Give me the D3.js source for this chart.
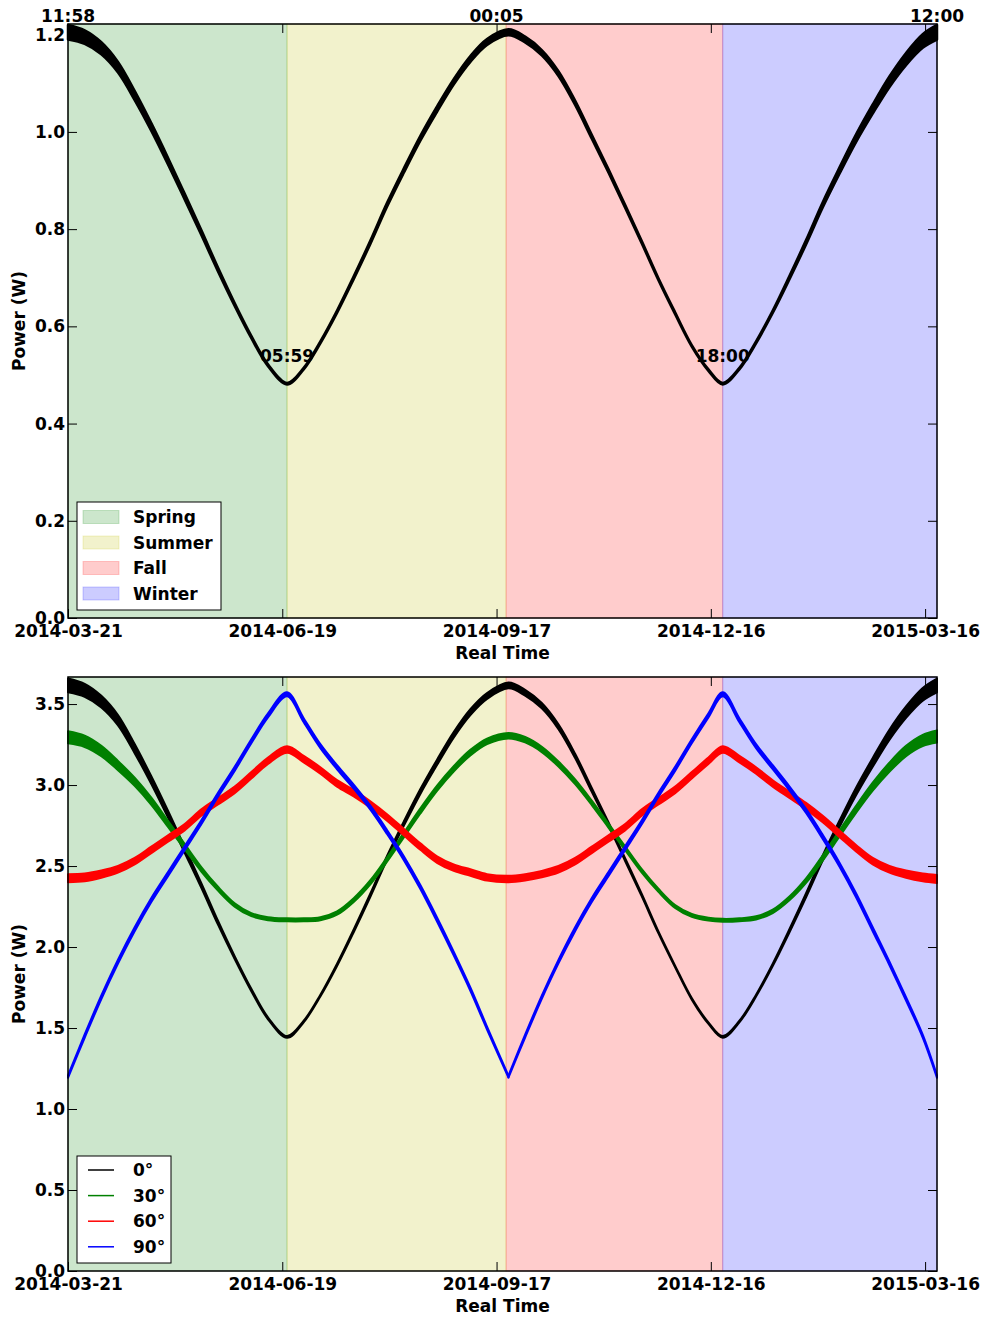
<!DOCTYPE html>
<html>
<head>
<meta charset="utf-8">
<script src="https://cdn.jsdelivr.net/npm/d3@7"></script>
<style>
  body { margin: 0; background: #fff; }
  text { font-family: "DejaVu Sans", sans-serif; font-weight: bold; }
</style>
</head>
<body>
<div id="chart"></div>
<script>
// ---- data ----
const START_DATE = "2014-03-21";
const END_DATE = "2015-03-21";

const tickDates = ["2014-03-21", "2014-06-19", "2014-09-17", "2014-12-16", "2015-03-16"];

const seasons = ["Spring", "Summer", "Fall", "Winter"];
const seasonStarts = ["2014-03-21", "2014-06-21", "2014-09-21", "2014-12-21"];
const seasonEnds = ["2014-06-21", "2014-09-21", "2014-12-21", "2015-03-21"];
const seasonColors = ["green", "#bfbf00", "red", "blue"];

// day offsets from START_DATE of the samples below
const dayOffsets = [0, 7, 14, 21, 28, 35, 42, 49, 56, 63, 70, 77, 84, 92, 99, 106, 113, 120, 127, 134, 141, 148, 155, 162, 169, 176, 185,
    192, 199, 206, 213, 220, 227, 234, 241, 248, 255, 262, 269, 275, 282, 289, 296, 303, 310, 317, 324, 331, 338, 345, 352, 359, 365];
const SPLIT_INDEX = 26; // sample at the equinox (day 185)

// top panel: power of the flat panel (centre of the daily band, and band height)
const topPower = [1.205, 1.195, 1.172, 1.133, 1.075, 1.01, 0.94, 0.867, 0.793, 0.717, 0.645, 0.578, 0.52, 0.482, 0.513, 0.567, 0.63, 0.70, 0.773, 0.85, 0.92, 0.987, 1.047, 1.103, 1.15, 1.185, 1.205,
    1.19, 1.163, 1.12, 1.06, 0.99, 0.92, 0.847, 0.773, 0.697, 0.627, 0.56, 0.51, 0.482, 0.513, 0.567, 0.63, 0.70, 0.773, 0.85, 0.92, 0.987, 1.047, 1.103, 1.15, 1.187, 1.205];
const topSpread = [0.030, 0.028, 0.025, 0.022, 0.019, 0.016, 0.014, 0.012, 0.010, 0.008, 0.006, 0.005, 0.004, 0.003, 0.003, 0.004, 0.005, 0.006, 0.007, 0.008, 0.009, 0.010, 0.011, 0.011, 0.012, 0.012, 0.012,
    0.012, 0.011, 0.010, 0.009, 0.008, 0.007, 0.006, 0.005, 0.004, 0.004, 0.003, 0.003, 0.003, 0.003, 0.004, 0.005, 0.007, 0.009, 0.011, 0.013, 0.016, 0.019, 0.022, 0.025, 0.028, 0.030];

// bottom panel: tilt angles
const angleNames = ["0°", "30°", "60°", "90°"];
const angleColors = ["black", "green", "red", "blue"];

const power0 = [3.615, 3.585, 3.515, 3.40, 3.225, 3.03, 2.82, 2.60, 2.38, 2.15, 1.935, 1.735, 1.56, 1.445, 1.54, 1.70, 1.89, 2.10, 2.32, 2.55, 2.76, 2.96, 3.14, 3.31, 3.45, 3.55, 3.615,
    3.57, 3.49, 3.36, 3.18, 2.97, 2.76, 2.54, 2.32, 2.09, 1.88, 1.68, 1.53, 1.445, 1.54, 1.70, 1.89, 2.10, 2.32, 2.55, 2.76, 2.96, 3.14, 3.31, 3.45, 3.56, 3.615];
const spread0 = [0.085, 0.08, 0.072, 0.064, 0.056, 0.048, 0.042, 0.036, 0.03, 0.024, 0.018, 0.015, 0.012, 0.01, 0.01, 0.012, 0.015, 0.018, 0.021, 0.024, 0.027, 0.03, 0.033, 0.034, 0.036, 0.036, 0.036,
    0.036, 0.033, 0.030, 0.027, 0.024, 0.021, 0.018, 0.015, 0.012, 0.011, 0.01, 0.01, 0.01, 0.01, 0.012, 0.015, 0.02, 0.026, 0.032, 0.039, 0.047, 0.055, 0.063, 0.071, 0.079, 0.085];

const power30 = [3.295, 3.27, 3.21, 3.12, 3.02, 2.90, 2.76, 2.62, 2.48, 2.36, 2.26, 2.20, 2.175, 2.168, 2.168, 2.175, 2.21, 2.29, 2.40, 2.54, 2.69, 2.84, 2.98, 3.10, 3.20, 3.27, 3.305,
    3.28, 3.22, 3.13, 3.02, 2.89, 2.75, 2.61, 2.47, 2.35, 2.25, 2.195, 2.172, 2.165, 2.168, 2.18, 2.22, 2.30, 2.41, 2.55, 2.70, 2.85, 2.99, 3.11, 3.21, 3.275, 3.30];
const spread30 = [0.075, 0.07, 0.064, 0.057, 0.05, 0.044, 0.038, 0.033, 0.028, 0.024, 0.021, 0.019, 0.018, 0.018, 0.018, 0.019, 0.021, 0.023, 0.025, 0.027, 0.029, 0.031, 0.032, 0.033, 0.034, 0.034, 0.034,
    0.034, 0.033, 0.031, 0.029, 0.027, 0.025, 0.023, 0.021, 0.019, 0.018, 0.018, 0.018, 0.018, 0.018, 0.019, 0.021, 0.024, 0.028, 0.033, 0.038, 0.044, 0.05, 0.057, 0.064, 0.07, 0.075];

const power60 = [2.425, 2.43, 2.45, 2.48, 2.53, 2.60, 2.67, 2.74, 2.83, 2.90, 2.97, 3.06, 3.15, 3.22, 3.16, 3.09, 3.01, 2.95, 2.88, 2.80, 2.71, 2.62, 2.54, 2.49, 2.46, 2.43, 2.42,
    2.43, 2.45, 2.48, 2.53, 2.60, 2.67, 2.74, 2.83, 2.90, 2.97, 3.06, 3.15, 3.22, 3.16, 3.09, 3.01, 2.94, 2.87, 2.79, 2.70, 2.61, 2.53, 2.48, 2.45, 2.43, 2.42];
const spread60 = [0.05, 0.048, 0.045, 0.042, 0.04, 0.04, 0.04, 0.04, 0.04, 0.04, 0.04, 0.04, 0.04, 0.04, 0.04, 0.04, 0.04, 0.04, 0.04, 0.04, 0.04, 0.04, 0.04, 0.04, 0.04, 0.04, 0.04,
    0.04, 0.04, 0.04, 0.04, 0.04, 0.04, 0.04, 0.04, 0.04, 0.04, 0.04, 0.04, 0.04, 0.04, 0.04, 0.04, 0.04, 0.04, 0.04, 0.04, 0.04, 0.04, 0.042, 0.045, 0.048, 0.05];

const power90 = [1.20, 1.45, 1.69, 1.91, 2.11, 2.29, 2.45, 2.61, 2.77, 2.94, 3.10, 3.27, 3.43, 3.56, 3.40, 3.24, 3.11, 2.99, 2.86, 2.71, 2.55, 2.37, 2.17, 1.96, 1.74, 1.50, 1.20,
    1.45, 1.69, 1.91, 2.11, 2.29, 2.45, 2.61, 2.77, 2.94, 3.10, 3.27, 3.43, 3.56, 3.40, 3.24, 3.11, 2.98, 2.84, 2.68, 2.51, 2.32, 2.11, 1.90, 1.68, 1.45, 1.20];
const spread90 = [0.015, 0.02, 0.022, 0.025, 0.025, 0.025, 0.025, 0.025, 0.025, 0.025, 0.025, 0.025, 0.025, 0.025, 0.025, 0.025, 0.025, 0.025, 0.025, 0.025, 0.025, 0.025, 0.025, 0.022, 0.02, 0.018, 0.012,
    0.018, 0.02, 0.022, 0.025, 0.025, 0.025, 0.025, 0.025, 0.025, 0.025, 0.025, 0.025, 0.025, 0.025, 0.025, 0.025, 0.025, 0.025, 0.025, 0.025, 0.025, 0.025, 0.022, 0.02, 0.018, 0.015];

// clock time labels at the extremes of the top curve
const extremeLabels = ["11:58", "05:59", "00:05", "18:00", "12:00"];
const extremeDays = [0, 92, 180, 275, 365];
const extremeValues = [1.222, 0.481, 1.222, 0.481, 1.222];
const extremeIsMax = [true, false, true, false, true];

// ---- layout ----
const WIDTH = 986, HEIGHT = 1317;
const PLOT_LEFT = 68, PLOT_RIGHT = 937;
const TICK_LEN = 9;
const FONT_SIZE = 17;

const parseDate = d3.utcParse("%Y-%m-%d");
const startDate = parseDate(START_DATE);
const smooth = d3.curveCatmullRom.alpha(0.5);

let svg = d3.select("#chart").append("svg")
    .attr("width", WIDTH)
    .attr("height", HEIGHT)
    .style("display", "block");

let x = d3.scaleUtc()
    .domain([startDate, parseDate(END_DATE)])
    .range([PLOT_LEFT, PLOT_RIGHT]);

function rowsFor(values, spreads) {
    return dayOffsets.map((d, i) => ({
        date: d3.utcDay.offset(startDate, d),
        v: values[i],
        lo: values[i] - spreads[i] / 2,
        hi: values[i] + spreads[i] / 2
    }));
}

function drawPanel(top, bottom, yMax) {
    let g = svg.append("g");

    let y = d3.scaleLinear()
        .domain([0, yMax])
        .range([bottom, top]);

    // season shading
    seasons.forEach((s, i) => {
        let x0 = x(parseDate(seasonStarts[i])), x1 = x(parseDate(seasonEnds[i]));
        g.append("rect")
            .attr("x", x0)
            .attr("y", top)
            .attr("width", x1 - x0)
            .attr("height", bottom - top)
            .attr("fill", seasonColors[i])
            .attr("fill-opacity", 0.2)
            .attr("stroke", seasonColors[i])
            .attr("stroke-opacity", 0.2)
            .attr("stroke-width", 1);
    });

    return { g, y };
}

function drawBand(g, y, rows, color, width, curve) {
    let area = d3.area()
        .curve(curve)
        .x(d => x(d.date))
        .y0(d => y(d.lo))
        .y1(d => y(d.hi));

    g.append("path")
        .datum(rows)
        .attr("d", area)
        .attr("fill", color)
        .attr("stroke", color)
        .attr("stroke-width", width)
        .attr("stroke-linejoin", "round");
}

function drawAxes(g, y, top, bottom, yTicks, yFormat) {
    let tickVals = tickDates.map(parseDate);

    let xAxis = g.append("g")
        .attr("transform", `translate(0,${bottom})`)
        .call(d3.axisBottom(x)
            .tickValues(tickVals)
            .tickFormat(d3.utcFormat("%Y-%m-%d"))
            .tickSizeInner(-TICK_LEN)
            .tickSizeOuter(0)
            .tickPadding(7));

    let xAxisTop = g.append("g")
        .attr("transform", `translate(0,${top})`)
        .call(d3.axisTop(x)
            .tickValues(tickVals)
            .tickFormat("")
            .tickSizeInner(-TICK_LEN)
            .tickSizeOuter(0));

    let yAxis = g.append("g")
        .attr("transform", `translate(${PLOT_LEFT},0)`)
        .call(d3.axisLeft(y)
            .tickValues(yTicks)
            .tickFormat(yFormat)
            .tickSizeInner(-TICK_LEN)
            .tickSizeOuter(0)
            .tickPadding(3));

    let yAxisRight = g.append("g")
        .attr("transform", `translate(${PLOT_RIGHT},0)`)
        .call(d3.axisRight(y)
            .tickValues(yTicks)
            .tickFormat("")
            .tickSizeInner(-TICK_LEN)
            .tickSizeOuter(0));

    [xAxis, xAxisTop, yAxis, yAxisRight].forEach(a => {
        a.select(".domain").remove();
        a.selectAll("line").attr("stroke", "black").attr("stroke-width", 1);
        a.selectAll("text")
            .attr("fill", "black")
            .style("font-size", FONT_SIZE + "px")
            .style("font-family", "'DejaVu Sans', sans-serif")
            .style("font-weight", "bold");
    });

    // frame
    g.append("rect")
        .attr("x", PLOT_LEFT)
        .attr("y", top)
        .attr("width", PLOT_RIGHT - PLOT_LEFT)
        .attr("height", bottom - top)
        .attr("fill", "none")
        .attr("stroke", "black")
        .attr("stroke-width", 1.5);

    g.append("text")
        .attr("x", (PLOT_LEFT + PLOT_RIGHT) / 2)
        .attr("y", bottom + 41)
        .attr("text-anchor", "middle")
        .style("font-size", FONT_SIZE + "px")
        .text("Real Time");

    g.append("text")
        .attr("transform", `translate(25,${(top + bottom) / 2}) rotate(-90)`)
        .attr("text-anchor", "middle")
        .style("font-size", FONT_SIZE + "px")
        .text("Power (W)");
}

// ---- top panel ----
const TOP1 = 24, BOTTOM1 = 618;
let p1 = drawPanel(TOP1, BOTTOM1, 1.222);
drawBand(p1.g, p1.y, rowsFor(topPower, topSpread), "black", 2.5, smooth);

extremeLabels.forEach((t, i) => {
    p1.g.append("text")
        .attr("x", x(d3.utcDay.offset(startDate, extremeDays[i])))
        .attr("y", p1.y(extremeValues[i]) + (extremeIsMax[i] ? -2 : -22))
        .attr("text-anchor", "middle")
        .style("font-size", FONT_SIZE + "px")
        .text(t);
});

drawAxes(p1.g, p1.y, TOP1, BOTTOM1, [0, 0.2, 0.4, 0.6, 0.8, 1.0, 1.2], d3.format(".1f"));

// season legend
let leg1 = p1.g.append("g");
leg1.append("rect")
    .attr("x", 77).attr("y", 502)
    .attr("width", 144).attr("height", 108)
    .attr("fill", "white").attr("stroke", "black").attr("stroke-width", 1);
seasons.forEach((s, i) => {
    let cy = 517 + i * 25.5;
    leg1.append("rect")
        .attr("x", 83).attr("y", cy - 6.5)
        .attr("width", 36).attr("height", 13)
        .attr("fill", seasonColors[i]).attr("fill-opacity", 0.2)
        .attr("stroke", seasonColors[i]).attr("stroke-opacity", 0.2);
    leg1.append("text")
        .attr("x", 133).attr("y", cy + 6)
        .style("font-size", FONT_SIZE + "px")
        .text(s);
});

// ---- bottom panel ----
const TOP2 = 677, BOTTOM2 = 1271;
let p2 = drawPanel(TOP2, BOTTOM2, 3.667);
drawBand(p2.g, p2.y, rowsFor(power0, spread0), angleColors[0], 2, smooth);
drawBand(p2.g, p2.y, rowsFor(power30, spread30), angleColors[1], 2, smooth);
drawBand(p2.g, p2.y, rowsFor(power60, spread60), angleColors[2], 2, smooth);
// the 90° curve has a sharp turn at the equinox: draw each half on its own
let rows90 = rowsFor(power90, spread90);
drawBand(p2.g, p2.y, rows90.slice(0, SPLIT_INDEX + 1), angleColors[3], 2, smooth);
drawBand(p2.g, p2.y, rows90.slice(SPLIT_INDEX), angleColors[3], 2, smooth);

drawAxes(p2.g, p2.y, TOP2, BOTTOM2, [0, 0.5, 1.0, 1.5, 2.0, 2.5, 3.0, 3.5], d3.format(".1f"));

let leg2 = p2.g.append("g");
leg2.append("rect")
    .attr("x", 77).attr("y", 1156)
    .attr("width", 94).attr("height", 107)
    .attr("fill", "white").attr("stroke", "black").attr("stroke-width", 1);
angleNames.forEach((a, i) => {
    let cy = 1170 + i * 25.6;
    leg2.append("line")
        .attr("x1", 88).attr("x2", 114)
        .attr("y1", cy).attr("y2", cy)
        .attr("stroke", angleColors[i]).attr("stroke-width", 1.5);
    leg2.append("text")
        .attr("x", 133).attr("y", cy + 6)
        .style("font-size", FONT_SIZE + "px")
        .text(a);
});
</script>
</body>
</html>
